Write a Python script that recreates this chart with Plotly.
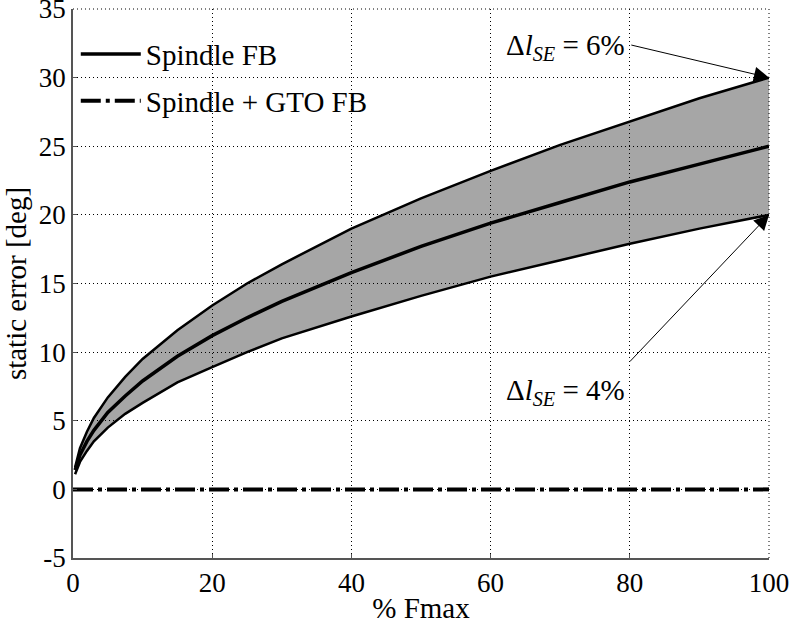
import plotly.graph_objects as go

# Values
x_pct = [0.3, 1, 2, 3, 5, 7.5, 10, 15, 20, 25, 30, 40, 50, 60, 70, 80, 90, 100]
upper_6 = [1.6, 3.0, 4.2, 5.2, 6.7, 8.2, 9.5, 11.6, 13.4, 15.0, 16.4, 19.0, 21.2, 23.2, 25.1, 26.8, 28.5, 30.0]
spindle_fb = [1.4, 2.5, 3.5, 4.3, 5.6, 6.8, 7.9, 9.7, 11.2, 12.5, 13.7, 15.8, 17.7, 19.4, 20.9, 22.4, 23.7, 25.0]
lower_4 = [1.1, 2.0, 2.8, 3.5, 4.5, 5.5, 6.3, 7.8, 8.9, 10.0, 11.0, 12.6, 14.1, 15.5, 16.7, 17.9, 19.0, 20.0]
gto_x = [0, 100]
gto_fb = [0, 0]

x_ticks = [0, 20, 40, 60, 80, 100]
x_tick_labels = ["0", "20", "40", "60", "80", "100"]
y_ticks = [-5, 0, 5, 10, 15, 20, 25, 30, 35]
y_tick_labels = ["-5", "0", "5", "10", "15", "20", "25", "30", "35"]

font_family = "Liberation Serif"

fig = go.Figure()
fig.add_trace(go.Scatter(x=x_pct, y=lower_4, mode="lines", line=dict(color="black", width=2.5),
                         showlegend=False, hoverinfo="skip"))
fig.add_trace(go.Scatter(x=x_pct, y=upper_6, mode="lines", line=dict(color="black", width=2.5),
                         fill="tonexty", fillcolor="rgba(0,0,0,0.35)", showlegend=False, hoverinfo="skip"))
fig.add_trace(go.Scatter(x=x_pct, y=spindle_fb, mode="lines", name="Spindle FB",
                         line=dict(color="black", width=3.5), legendgroup="a"))
fig.add_trace(go.Scatter(x=gto_x, y=gto_fb, mode="lines", name="Spindle + GTO FB",
                         line=dict(color="black", width=4, dash="20px,5px,4px,5px"), legendgroup="b"))

# dotted grid lines on the top and right edges of the plot area
grid_edge = dict(color="black", width=1, dash="1px,3px")
fig.add_shape(type="line", xref="paper", yref="paper", x0=0, x1=1, y0=1, y1=1, line=grid_edge)
fig.add_shape(type="line", xref="paper", yref="paper", x0=1, x1=1, y0=0, y1=1, line=grid_edge)

ann_font = dict(family=font_family, size=29, color="black")
fig.add_annotation(x=100, y=30, ax=80.0, ay=32.4, xref="x", yref="y", axref="x", ayref="y",
                   text="", showarrow=True, arrowhead=2, arrowsize=3, arrowwidth=1, arrowcolor="black")
fig.add_annotation(x=100, y=20, ax=79.8, ay=9.2, xref="x", yref="y", axref="x", ayref="y",
                   text="", showarrow=True, arrowhead=2, arrowsize=3, arrowwidth=1, arrowcolor="black")
fig.add_annotation(x=79.6, y=32.2, xref="x", yref="y", xanchor="right", yanchor="middle",
                   text="Δ<i>l</i><sub><i>SE</i></sub> = 6%", showarrow=False, font=ann_font)
fig.add_annotation(x=79.6, y=7.1, xref="x", yref="y", xanchor="right", yanchor="middle",
                   text="Δ<i>l</i><sub><i>SE</i></sub> = 4%", showarrow=False, font=ann_font)

axis_common = dict(showgrid=True, gridcolor="black", griddash="1px,3px", gridwidth=1,
                   zeroline=False, showline=True, linecolor="#555555", linewidth=1.5,
                   ticks="inside", ticklen=4, tickcolor="#555555", automargin=False,
                   ticklabeloverflow="allow",
                   tickfont=dict(family=font_family, size=27, color="black"))

fig.update_layout(
    width=792, height=624,
    margin=dict(l=73, r=23, t=9, b=66),
    paper_bgcolor="white", plot_bgcolor="white",
    font=dict(family=font_family, size=27, color="black"),
    xaxis=dict(range=[0, 100], tickmode="array", tickvals=x_ticks, ticktext=x_tick_labels,
               title=dict(text="% Fmax", standoff=6, font=dict(family=font_family, size=29)),
               **axis_common),
    yaxis=dict(range=[-5, 35], tickmode="array", tickvals=y_ticks, ticktext=y_tick_labels,
               title=dict(text="static error [deg]", standoff=10, font=dict(family=font_family, size=29)),
               **axis_common),
    legend=dict(x=0.004, y=0.964, xanchor="left", yanchor="top", bgcolor="rgba(0,0,0,0)",
                font=dict(family=font_family, size=29), tracegroupgap=6, itemwidth=60),
    showlegend=True,
)

fig.write_html("out.html", config={"displayModeBar": False},
               post_script="document.body.style.margin='0';")
